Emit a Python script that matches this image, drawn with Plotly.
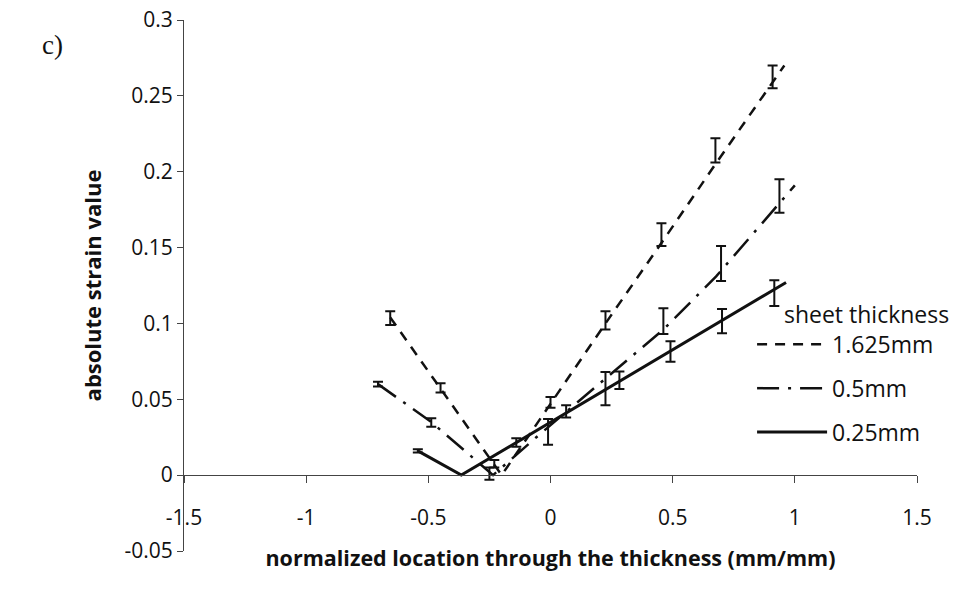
import plotly.graph_objects as go

# ---- data ----
series_names = ["1.625mm", "0.5mm", "0.25mm"]

# lines (polylines as drawn)
line_1625_x = [-0.656, -0.45, -0.2, 0.0, 0.225, 0.454, 0.675, 0.957]
line_1625_y = [0.104, 0.057, 0.0, 0.047, 0.100, 0.153, 0.205, 0.270]

line_05_x = [-0.706, -0.488, -0.235, -0.058, 0.462, 0.678, 1.0]
line_05_y = [0.060, 0.035, 0.0, 0.025, 0.096, 0.131, 0.191]

line_025_x = [-0.543, -0.365, 0.964]
line_025_y = [0.016, 0.0, 0.127]

# measured points with error bars
eb_1625_x = [-0.656, -0.45, -0.23, 0.0, 0.225, 0.454, 0.675, 0.909]
eb_1625_y = [0.1035, 0.0575, 0.0075, 0.048, 0.102, 0.1585, 0.214, 0.2625]
eb_1625_e = [0.0045, 0.003, 0.0025, 0.0035, 0.006, 0.0075, 0.008, 0.0075]

eb_05_x = [-0.706, -0.488, -0.25, -0.01, 0.225, 0.462, 0.698, 0.937]
eb_05_y = [0.060, 0.0347, 0.001, 0.0285, 0.057, 0.1015, 0.1395, 0.184]
eb_05_e = [0.0015, 0.0028, 0.004, 0.0085, 0.011, 0.0085, 0.0115, 0.011]

eb_025_x = [-0.543, -0.14, 0.064, 0.282, 0.491, 0.702, 0.916]
eb_025_y = [0.016, 0.0215, 0.042, 0.0625, 0.0815, 0.1015, 0.120]
eb_025_e = [0.001, 0.0028, 0.004, 0.0058, 0.0068, 0.008, 0.0085]

x_tickvals = [-1.5, -1.0, -0.5, 0.0, 0.5, 1.0, 1.5]
x_ticktext = ["-1.5", "-1", "-0.5", "0", "0.5", "1", "1.5"]
y_tickvals = [-0.05, 0.0, 0.05, 0.1, 0.15, 0.2, 0.25, 0.3]
y_ticktext = ["-0.05", "0", "0.05", "0.1", "0.15", "0.2", "0.25", "0.3"]

FONT = "Open Sans"
INK = "#111111"

fig = go.Figure()

lines = [
    (line_1625_x, line_1625_y, "10px,8px", 2.5),
    (line_05_x, line_05_y, "22px,9px,3px,9px", 2.5),
    (line_025_x, line_025_y, "solid", 3),
]
for i, (lx, ly, dash, w) in enumerate(lines):
    fig.add_trace(go.Scatter(
        x=lx, y=ly, mode="lines", name=series_names[i],
        legendgroup=f"g{i}",
        line=dict(color=INK, width=w, dash=dash),
    ))

ebars = [
    (eb_1625_x, eb_1625_y, eb_1625_e),
    (eb_05_x, eb_05_y, eb_05_e),
    (eb_025_x, eb_025_y, eb_025_e),
]
for i, (ex, ey, ee) in enumerate(ebars):
    fig.add_trace(go.Scatter(
        x=ex, y=ey, mode="markers", showlegend=False,
        legendgroup=f"g{i}",
        marker=dict(size=1, color="rgba(0,0,0,0)"),
        error_y=dict(type="data", array=ee, visible=True,
                     color=INK, thickness=2, width=5),
    ))

fig.update_layout(
    width=968, height=590,
    margin=dict(l=184, r=51, t=20, b=39),
    paper_bgcolor="white", plot_bgcolor="white",
    font=dict(family=FONT, color=INK, size=21),
    showlegend=True,
    legend=dict(
        x=0.775, y=0.486, xanchor="left", yanchor="top",
        bgcolor="rgba(0,0,0,0)",
        font=dict(family=FONT, size=23, color=INK),
        title=dict(text="\u00a0\u00a0\u00a0\u00a0\u00a0sheet thickness",
                   font=dict(family=FONT, size=23, color=INK)),
        tracegroupgap=11,
        itemwidth=70,
    ),
    xaxis=dict(
        range=[-1.5, 1.5], tickvals=x_tickvals, ticktext=x_ticktext,
        showgrid=False, zeroline=False,
        showline=True, linecolor="#444", linewidth=1,
        ticks="outside", ticklen=7, tickcolor="#444", tickwidth=1,
        anchor="free", position=0.05 / 0.35,
        ticklabelstandoff=17,
        tickfont=dict(family=FONT, size=21, color=INK),
        title=dict(text="<b>normalized location through the thickness (mm/mm)</b>",
                   font=dict(family=FONT, size=21.5, color=INK), standoff=20),
        automargin=False,
    ),
    yaxis=dict(
        range=[-0.05, 0.3], tickvals=y_tickvals, ticktext=y_ticktext,
        showgrid=False, zeroline=False,
        showline=True, linecolor="#444", linewidth=1,
        ticks="outside", ticklen=6, tickcolor="#444", tickwidth=1,
        tickfont=dict(family=FONT, size=21, color=INK),
        title=dict(text="<b>absolute strain value</b>",
                   font=dict(family=FONT, size=22, color=INK), standoff=16),
        automargin=False,
    ),
    annotations=[
        dict(text="c)", xref="paper", yref="paper", x=-0.196, y=0.953,
             xanchor="left", yanchor="middle", showarrow=False,
             font=dict(family="Liberation Serif", size=27, color=INK)),
    ],
)

fig.write_html("out.html")
